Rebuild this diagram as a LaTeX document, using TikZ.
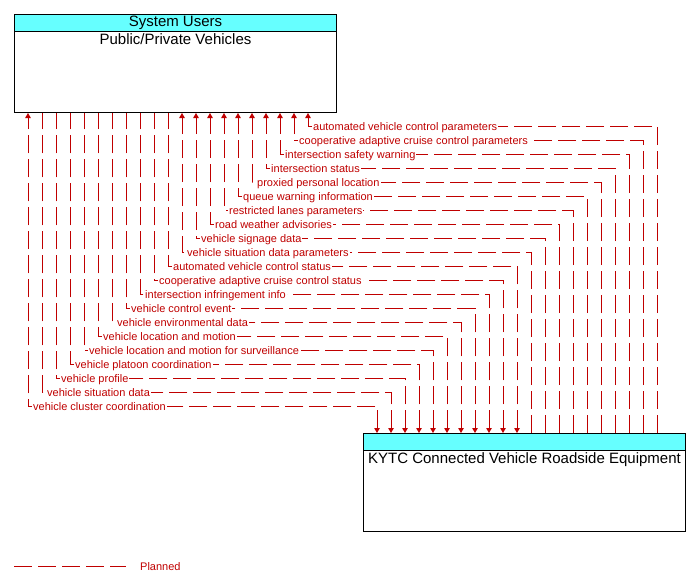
\documentclass[tikz,border=0pt]{standalone}
\usepackage{fontspec}
\setmainfont{Liberation Sans}
\usetikzlibrary{arrows.meta}

\definecolor{flowred}{RGB}{192,0,0}
\definecolor{hdrcyan}{RGB}{102,255,255}

\begin{document}
\begin{tikzpicture}[x=1pt, y=-1pt,
    sysbox/.style={draw, line width=1pt, anchor=north west, minimum width=322pt, minimum height=98pt, inner sep=0pt},
    hdr/.style={draw, line width=1pt, fill=hdrcyan, anchor=north west, minimum width=322pt, minimum height=17pt, inner sep=0pt, font=\fontsize{15}{17}\selectfont},
    boxtext/.style={anchor=north, inner sep=1.5pt, font=\fontsize{15}{17}\selectfont},
    flow/.style={draw=flowred, line width=1pt, dash pattern=on 18pt off 6pt, >={Triangle[width=5.5pt,length=5pt]}},
    lbl/.style={anchor=base west, fill=white, inner sep=1pt, text=flowred, font=\fontsize{11}{13}\selectfont}]
    \useasboundingbox (0,0) rectangle (697,587);

    % boxes
    \node[sysbox] (users) at (14,14) {};
    \node[hdr] (usershdr) at (users.north west) {System Users};
    \node[boxtext] (usersname) at (usershdr.south) {Public/Private Vehicles};

    \node[sysbox] (kytc) at (363,433) {};
    \node[hdr] (kytchdr) at (kytc.north west) {};
    \node[boxtext] (kytcname) at (kytchdr.south) {KYTC Connected Vehicle Roadside Equipment};

    % roadside equipment -> vehicles
    \foreach \k/\txt in {1/automated vehicle control parameters,
        2/cooperative adaptive cruise control parameters,
        3/intersection safety warning,
        4/intersection status,
        5/proxied personal location,
        6/queue warning information,
        7/restricted lanes parameters,
        8/road weather advisories,
        9/vehicle signage data,
        10/vehicle situation data parameters} {
      \pgfmathsetmacro\xl{28+14*(21-\k)}
      \pgfmathsetmacro\xr{657-14*(\k-1)}
      \pgfmathsetmacro\yy{126+14*(\k-1)}
      \coordinate (l\k) at (\xl,\yy);
      \coordinate (r\k) at (\xr,\yy);
      \draw[flow,->] (kytc.north -| r\k) -- (r\k) -- (l\k) -- (users.south -| l\k);
      \node[lbl] (t\k) at (\xl+4,\yy+4) {\txt};
    }

    % vehicles -> roadside equipment
    \foreach \k/\txt in {11/automated vehicle control status,
        12/cooperative adaptive cruise control status,
        13/intersection infringement info,
        14/vehicle control event,
        15/vehicle environmental data,
        16/vehicle location and motion,
        17/vehicle location and motion for surveillance,
        18/vehicle platoon coordination,
        19/vehicle profile,
        20/vehicle situation data} {
      \pgfmathsetmacro\xl{28+14*(21-\k)}
      \pgfmathsetmacro\xr{657-14*(\k-1)}
      \pgfmathsetmacro\yy{126+14*(\k-1)}
      \coordinate (l\k) at (\xl,\yy);
      \coordinate (r\k) at (\xr,\yy);
      \draw[flow,<-] (kytc.north -| r\k) -- (r\k) -- (l\k) -- (users.south -| l\k);
      \node[lbl] (t\k) at (\xl+4,\yy+4) {\txt};
    }

    % both ways
    \coordinate (l21) at (28,406);
    \coordinate (r21) at (377,406);
    \draw[flow,<->] (kytc.north -| r21) -- (r21) -- (l21) -- (users.south -| l21);
    \node[lbl] (t21) at (32,410) {vehicle cluster coordination};

    % legend
    \coordinate (legend) at (14,566);
    \node[lbl, fill=none] (planned) at (139,570) {Planned};
    \draw[flow] (legend) -- ([xshift=-13pt]legend -| planned.west);
\end{tikzpicture}
\end{document}
